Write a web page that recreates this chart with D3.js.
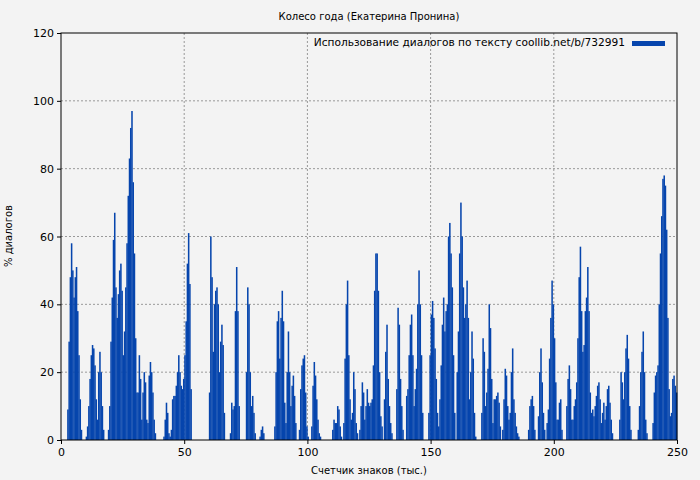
<!DOCTYPE html>
<html>
<head>
<meta charset="utf-8">
<script src="https://cdn.jsdelivr.net/npm/d3@7"></script>
<style>
  body { margin: 0; background: #f3f3f3; }
  text { font-family: "DejaVu Sans", sans-serif; }
</style>
</head>
<body>
<svg id="chart" width="700" height="480"></svg>
<script>
// [тыс. знаков, % диалогов], шаг 0.5, пропущенные = 0
var dialogs = [
  [2.5,9],[3,29],[3.5,48],[4,58],[4.5,50],[5,42],[5.5,48],[6,51],[6.5,38],[7,25],[7.5,12],[8,3],
  [10,1],[10.5,4],[11,10],[11.5,18],[12,25],[12.5,28],[13,27],[13.5,22],[14,12],[14.5,6],[15,20],[15.5,26],[16,20],[16.5,10],[17,3],
  [19,3],[19.5,10],[20,29],[20.5,42],[21,59],[21.5,67],[22,45],[22.5,36],[23,43],[23.5,50],[24,52],[24.5,44],[25,25],[25.5,32],
  [26,45],[26.5,58],[27,72],[27.5,83],[28,92],[28.5,97],[29,76],[29.5,55],[30,30],[30.5,14],
  [31,14],[31.5,25],[32,18],[32.5,6],[33,14],[33.5,20],[34,17],[34.5,6],[35,5],[35.5,19],[36,23],[36.5,20],[37,14],[37.5,6],[38,2],
  [41.5,1],[42,6],[42.5,11],[43,8],[43.5,2],[44,1],[44.5,3],[45,12],[45.5,13],[46,13],[46.5,16],[47,20],[47.5,25],[48,20],
  [48.5,16],[49,15],[49.5,18],[50,25],[50.5,35],[51,52],[51.5,61],[52,46],[52.5,15],
  [60,14],[60.5,60],[61,48],[61.5,26],[62,40],[62.5,44],[63,45],[63.5,40],[64,20],[64.5,29],[65,34],[65.5,28],[66,8],
  [68.5,2],[69,11],[69.5,9],[70,10],[70.5,38],[71,51],[71.5,38],[72,10],
  [75,20],[75.5,45],[76,40],[76.5,20],[77,10],[77.5,13],[78,8],[78.5,2],
  [80.5,1],[81,3],[81.5,4],[82,2],
  [86.5,4],[87,20],[87.5,35],[88,38],[88.5,24],[89,36],[89.5,44],[90,35],[90.5,11],[91,5],[91.5,20],[92,32],[92.5,20],
  [93,10],[93.5,16],[94,19],[94.5,13],[95,5],
  [96.5,3],[97,15],[97.5,22],[98,24],[98.5,25],[99,14],[99.5,4],[100,1],
  [101.5,4],[102,16],[102.5,23],[103,19],[103.5,12],[104,6],[104.5,2],[105,1],
  [110,3],[110.5,6],[111,5],[111.5,5],[112,10],[112.5,9],[113,4],[113.5,1],
  [114.5,5],[115,24],[115.5,40],[116,47],[116.5,25],[117,12],[117.5,6],[118,8],[118.5,20],[119,15],[119.5,5],[120,2],
  [121,3],[121.5,10],[122,17],[122.5,14],[123,6],[123.5,10],[124,15],[124.5,11],[125,10],[125.5,11],[126,12],
  [126.5,22],[127,44],[127.5,55],[128,55],[128.5,44],[129,20],[129.5,7],[130,4],
  [131,12],[131.5,26],[132,34],[132.5,18],[133,10],[133.5,5],[134,2],
  [136,15],[136.5,39],[137,34],[137.5,18],[138,10],[138.5,3],
  [140,13],[140.5,15],[141,25],[141.5,34],[142,37],[142.5,25],[143,10],[143.5,15],[144,21],[144.5,40],[145,50],[145.5,40],[146,25],[146.5,8],
  [149,8],[149.5,25],[150,37],[150.5,41],[151,36],[151.5,27],[152,18],[152.5,8],[153,4],[153.5,12],[154,22],[154.5,34],
  [155,42],[155.5,32],[156,38],[156.5,40],[157,60],[157.5,64],[158,55],[158.5,45],[159,25],[159.5,8],
  [160.5,20],[161,32],[161.5,55],[162,70],[162.5,60],[163,45],[163.5,36],[164,40],[164.5,47],[165,36],[165.5,12],
  [166,20],[166.5,32],[167,24],[167.5,8],[168,1],
  [170.5,8],[171,30],[171.5,26],[172,10],[172.5,14],[173,21],[173.5,40],[174,33],[174.5,18],[175,5],
  [175.5,12],[176,12],[176.5,13],[177,14],[177.5,11],[178,4],
  [179,3],[179.5,12],[180,21],[180.5,19],[181,10],[181.5,6],[182,8],[182.5,20],[183,27],[183.5,12],[184,8],[184.5,4],[185,2],[185.5,1],
  [189.5,3],[190,10],[190.5,12],[191,13],[191.5,10],[192,3],
  [193.5,7],[194,20],[194.5,27],[195,17],[195.5,8],[196,3],
  [197,5],[197.5,9],[198,24],[198.5,36],[199,47],[199.5,40],[200,30],[200.5,17],[201,6],[201.5,6],[202,11],[202.5,12],[203,3],
  [205,10],[205.5,18],[206,22],[206.5,15],[207,6],[207.5,6],[208,10],[208.5,12],[209,17],[209.5,30],[210,48],[210.5,57],
  [211,38],[211.5,26],[212,28],[212.5,38],[213,42],[213.5,51],[214,38],[214.5,14],
  [215,8],[215.5,9],[216,7],[216.5,10],[217,13],[217.5,16],[218,17],[218.5,12],[219,5],[219.5,8],[220,11],[220.5,6],
  [221,10],[221.5,15],[222,16],[222.5,11],[223,6],[223.5,2],
  [226.5,6],[227,20],[227.5,17],[228,12],[228.5,20],[229,27],[229.5,31],[230,24],[230.5,10],[231,3],
  [234,3],[234.5,10],[235,20],[235.5,26],[236,32],[236.5,20],[237,6],[237.5,2],
  [240,5],[240.5,14],[241,19],[241.5,20],[242,22],[242.5,40],[243,55],[243.5,66],[244,77],[244.5,78],[245,75],[245.5,62],
  [246,36],[246.5,15],[247,7],[247.5,8],[248,18],[248.5,19],[249,16],[249.5,14]
];
var xTicks = [0, 50, 100, 150, 200, 250];
var yTicks = [0, 20, 40, 60, 80, 100, 120];

var svg = d3.select('#chart');
var padL = 61, padR = 677, padT = 33, padB = 440;
var x = d3.scaleLinear().domain([0, 250]).range([padL, padR]);
var y = d3.scaleLinear().domain([0, 120]).range([padB, padT]);

// grid
svg.append('g').selectAll('line').data(xTicks.slice(1, -1)).enter().append('line')
  .attr('x1', d => x(d)).attr('x2', d => x(d)).attr('y1', padT).attr('y2', padB)
  .attr('stroke', '#999').attr('stroke-dasharray', '2,2');
svg.append('g').selectAll('line').data(yTicks.slice(1, -1)).enter().append('line')
  .attr('x1', padL).attr('x2', padR).attr('y1', d => y(d)).attr('y2', d => y(d))
  .attr('stroke', '#999').attr('stroke-dasharray', '2,2');

// bars
var bw = x(0.5) - x(0);
svg.append('g').selectAll('rect').data(dialogs).enter().append('rect')
  .attr('x', d => x(d[0])).attr('width', bw + 0.3)
  .attr('y', d => y(d[1])).attr('height', d => padB - y(d[1]))
  .attr('fill', '#0645ad');

// frame
svg.append('rect').attr('x', padL).attr('y', padT).attr('width', padR - padL).attr('height', padB - padT)
  .attr('fill', 'none').attr('stroke', '#000');

// axes
svg.append('g').attr('transform', 'translate(0,' + padB + ')')
  .call(d3.axisBottom(x).tickValues(xTicks).tickSize(4).tickPadding(4))
  .call(g => g.select('.domain').remove())
  .call(g => g.selectAll('text').attr('font-size', 11).attr('fill', '#000').attr('font-family', 'DejaVu Sans'));
svg.append('g').attr('transform', 'translate(' + padL + ',0)')
  .call(d3.axisLeft(y).tickValues(yTicks).tickSize(4).tickPadding(3))
  .call(g => g.select('.domain').remove())
  .call(g => g.selectAll('text').attr('font-size', 11).attr('fill', '#000').attr('font-family', 'DejaVu Sans'));

// texts
svg.append('text').attr('x', 369).attr('y', 20).attr('text-anchor', 'middle')
  .attr('font-size', 10).text('Колесо года (Екатерина Пронина)');
svg.append('text').attr('x', 369).attr('y', 474).attr('text-anchor', 'middle')
  .attr('font-size', 10).text('Счетчик знаков (тыс.)');
svg.append('text').attr('transform', 'translate(12,236) rotate(-90)').attr('text-anchor', 'middle')
  .attr('font-size', 10).text('% диалогов');

// legend
svg.append('text').attr('x', 625).attr('y', 46).attr('text-anchor', 'end')
  .attr('font-size', 10.6).text('Использование диалогов по тексту coollib.net/b/732991');
svg.append('rect').attr('x', 632).attr('y', 41).attr('width', 33).attr('height', 5).attr('fill', '#0645ad');
</script>
</body>
</html>
